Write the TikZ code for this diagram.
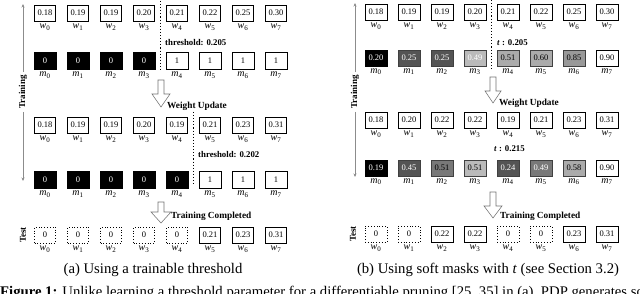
\documentclass[tikz,border=0pt]{standalone}
\usepackage{fontspec}
\setmainfont{Liberation Serif}
\usetikzlibrary{arrows.meta}
\begin{document}
\begin{tikzpicture}[x=1pt,y=-1pt,
  val/.style={draw, line width=0.8pt, minimum width=21pt, minimum height=16pt, inner sep=0pt, font=\fontsize{8.5}{10}\selectfont},
  wv/.style={val},
  dv/.style={val, dotted, line width=0.7pt},
  bk/.style={val, fill=black, text=white, minimum width=22pt, minimum height=17pt},
  wh/.style={val, minimum width=22pt, minimum height=17pt},
  gb/.style={val, minimum width=22pt, minimum height=16pt, draw=black!75},
  g0/.style={gb, fill=black, text=white, draw=black},
  g1/.style={gb, fill=black!67, text=white},
  g1b/.style={gb, fill=black!53, text=black},
  g2/.style={gb, fill=black!53, text=white},
  g3/.style={gb, fill=black!27, text=white},
  g3b/.style={gb, fill=black!27, text=black},
  g4/.style={gb, fill=black!33, text=black},
  g5/.style={gb, fill=black!40, text=black},
  g6/.style={gb, fill=white, text=black, draw=black},
  bw/.style={val, minimum width=22pt},
  bdot/.style={dv, minimum width=22pt},
  lab/.style={inner sep=0pt, font=\fontsize{10}{12}\selectfont},
  hl/.style={inner sep=0pt, font=\bfseries\fontsize{8.8}{10}\selectfont},
  hlb/.style={inner sep=0pt, font=\bfseries\fontsize{9.3}{11}\selectfont},
  axl/.style={inner sep=3pt, rotate=90, font=\bfseries\fontsize{9}{11}\selectfont},
  dline/.style={dotted, line width=1.1pt},
  bigarrow/.style={draw=black!55, fill=white, line width=0.55pt, line join=miter},
  gaxis/.style={draw=black!45, line width=0.8pt, -{Stealth[length=3.5pt,width=3pt]}},
  captxt/.style={inner sep=0pt, font=\fontsize{14.7}{17}\selectfont}
]
\useasboundingbox (0,0) rectangle (640,294);

% ===================== panel (a) =====================
\foreach \v/\s [count=\i from 0] in {0.18/wv,0.19/wv,0.19/wv,0.20/wv,0.21/wv,0.22/wv,0.25/wv,0.30/wv}{
  \node[\s] (aa\i) at ({45+33*\i},13) {\v};
  \node[lab, anchor=north] (aal\i) at ([yshift=-2.5pt]aa\i.south) {\textit{w}\textsubscript{\i}};
}
\foreach \v/\s [count=\i from 0] in {0/bk,0/bk,0/bk,0/bk,1/wh,1/wh,1/wh,1/wh}{
  \node[\s] (ab\i) at ({45+33*\i},61) {\v};
  \node[lab, anchor=north] (abl\i) at ([yshift=-2pt]ab\i.south) {\textit{m}\textsubscript{\i}};
}
\foreach \v/\s [count=\i from 0] in {0.18/wv,0.19/wv,0.19/wv,0.20/wv,0.19/wv,0.21/wv,0.23/wv,0.31/wv}{
  \node[\s] (ac\i) at ({45+33*\i},125) {\v};
  \node[lab, anchor=north] (acl\i) at ([yshift=-2.5pt]ac\i.south) {\textit{w}\textsubscript{\i}};
}
\foreach \v/\s [count=\i from 0] in {0/bk,0/bk,0/bk,0/bk,0/bk,1/wh,1/wh,1/wh}{
  \node[\s] (ad\i) at ({45+33*\i},180) {\v};
  \node[lab, anchor=north] (adl\i) at ([yshift=-2pt]ad\i.south) {\textit{m}\textsubscript{\i}};
}
\foreach \v/\s [count=\i from 0] in {0/dv,0/dv,0/dv,0/dv,0/dv,0.21/wv,0.23/wv,0.31/wv}{
  \node[\s] (ae\i) at ({45+33*\i},235) {\v};
  \node[lab, anchor=north] (ael\i) at ([yshift=-2.5pt]ae\i.south) {\textit{w}\textsubscript{\i}};
}
\coordinate (ad1t) at (160.5,1);
\coordinate (ad1b) at (160.5,72);
\draw[dline] (ad1t) -- (ad1b);
\coordinate (ad2t) at (193.5,112);
\coordinate (ad2b) at (193.5,186);
\draw[dline] (ad2t) -- (ad2b);
\node[hl, anchor=west] (ath1) at (165,43) {threshold: 0.205};
\node[hl, anchor=west] (ath2) at (198,155) {threshold: 0.202};

\draw[bigarrow] (158,80) -- (164,80) -- (164,94) -- (170,94) -- (161,107) -- (152,94) -- (158,94) -- cycle;
\node[hlb, anchor=west] (awu) at (167,106) {Weight Update};
\draw[bigarrow] (158,202) -- (164,202) -- (164,212) -- (171,212) -- (161,223) -- (151,212) -- (158,212) -- cycle;
\node[hlb, anchor=west] (atc) at (171,216) {Training Completed};

\node[axl] (atr) at (23,92) {Training};
\coordinate (atop) at (23,4);
\coordinate (abot) at (23,181);
\draw[gaxis] (atr.east) -- (atop);
\draw[gaxis] (atr.west) -- (abot);
\node[axl] (ats) at (23,235) {Test};

\node[captxt, anchor=base] (acap) at (153,273) {(a) Using a trainable threshold};

% ===================== panel (b) =====================
\foreach \v/\s [count=\i from 0] in {0.18/bw,0.19/bw,0.19/bw,0.20/bw,0.21/bw,0.22/bw,0.25/bw,0.30/bw}{
  \node[\s] (ba\i) at ({376+33*\i},12) {\v};
  \node[lab, anchor=north] (bal\i) at ([yshift=-2.5pt]ba\i.south) {\textit{w}\textsubscript{\i}};
}
\foreach \v/\s [count=\i from 0] in {0.20/g0,0.25/g1,0.25/g1,0.49/g3,0.51/g4,0.60/g4,0.85/g5,0.90/g6}{
  \node[\s] (bb\i) at ({376+33*\i},58) {\v};
  \node[lab, anchor=north] (bbl\i) at ([yshift=-2pt]bb\i.south) {\textit{m}\textsubscript{\i}};
}
\foreach \v/\s [count=\i from 0] in {0.18/bw,0.20/bw,0.22/bw,0.22/bw,0.19/bw,0.21/bw,0.23/bw,0.31/bw}{
  \node[\s] (bc\i) at ({376+33*\i},120) {\v};
  \node[lab, anchor=north] (bcl\i) at ([yshift=-2.5pt]bc\i.south) {\textit{w}\textsubscript{\i}};
}
\foreach \v/\s [count=\i from 0] in {0.19/g0,0.45/g1,0.51/g1b,0.51/g3b,0.24/g1,0.49/g2,0.58/g4,0.90/g6}{
  \node[\s] (bd\i) at ({376+33*\i},168) {\v};
  \node[lab, anchor=north] (bdl\i) at ([yshift=-2pt]bd\i.south) {\textit{m}\textsubscript{\i}};
}
\foreach \v/\s [count=\i from 0] in {0/bdot,0/bdot,0.22/bw,0.22/bw,0/bdot,0/bdot,0.23/bw,0.31/bw}{
  \node[\s] (be\i) at ({376+33*\i},234) {\v};
  \node[lab, anchor=north] (bel\i) at ([yshift=-2.5pt]be\i.south) {\textit{w}\textsubscript{\i}};
}
\coordinate (bd1t) at (491.5,0);
\coordinate (bd1b) at (491.5,70);
\draw[dline] (bd1t) -- (bd1b);
\node[hl, anchor=west] (bth1) at (497,43) {\textit{t} : 0.205};
\node[hl, anchor=west] (bth2) at (494,149) {\textit{t} : 0.215};

\draw[bigarrow] (490,77) -- (496,77) -- (496,91) -- (501,91) -- (493,103) -- (485,91) -- (490,91) -- cycle;
\node[hlb, anchor=west] (bwu) at (499,103) {Weight Update};
\draw[bigarrow] (490,192) -- (496,192) -- (496,206) -- (502,206) -- (493,218) -- (484,206) -- (490,206) -- cycle;
\node[hlb, anchor=west] (btc) at (500,216) {Training Completed};

\node[axl] (btr) at (355,92) {Training};
\coordinate (btop) at (355,3);
\coordinate (bbot) at (355,177);
\draw[gaxis] (btr.east) -- (btop);
\draw[gaxis] (btr.west) -- (bbot);
\node[axl] (bts) at (353,234) {Test};

\node[captxt, anchor=base] (bcap) at (488,273) {(b) Using soft masks with \textit{t} (see Section 3.2)};

% ===================== figure caption (cut off by the crop) =====================
\node[captxt, anchor=base west] (fig) at (0,296.5) {\textbf{Figure 1:} Unlike learning a threshold parameter for a differentiable pruning [25, 35] in (a), PDP generates soft};
\end{tikzpicture}
\end{document}
